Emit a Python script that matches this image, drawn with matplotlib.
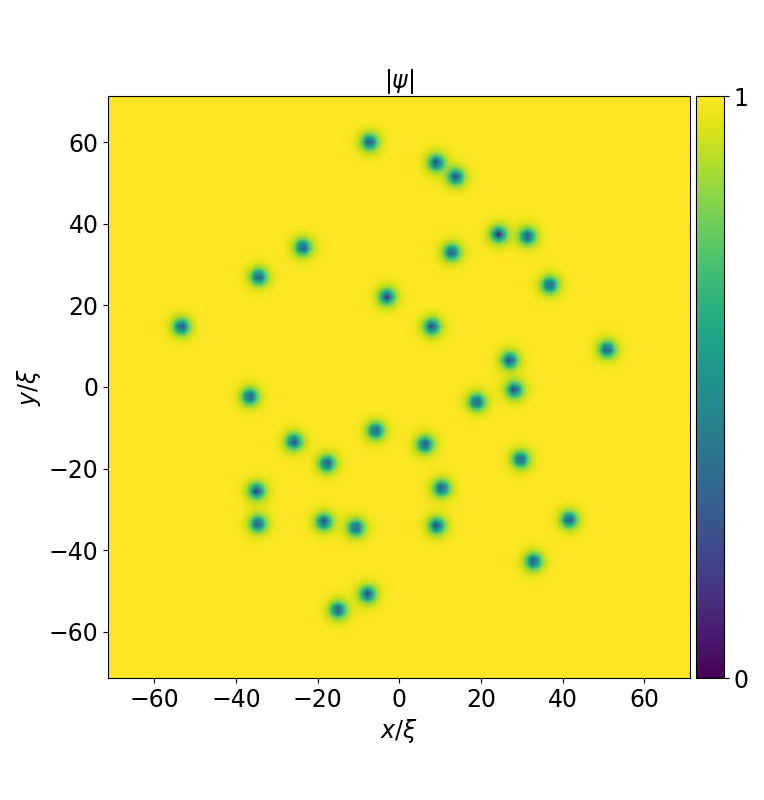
import numpy as np
import matplotlib
matplotlib.use("Agg")
import matplotlib.pyplot as plt

# vortex positions in units of xi
vortex_x = [-7.3, 9.2, 14.0, 24.6, 31.7, -23.8, 13.0, -34.7, 37.2, -3.0, -53.8,
            8.1, 51.4, 27.3, 28.5, -36.9, 19.2, -5.8, -26.0, 6.4, -17.8, 30.0,
            -35.2, 10.5, -34.9, -18.6, -10.7, 9.3, 42.0, 33.2, -7.8, -15.1]
vortex_y = [60.5, 55.4, 51.9, 37.7, 37.2, 34.5, 33.3, 27.2, 25.2, 22.3, 14.9,
            14.9, 9.3, 6.6, -0.7, -2.4, -3.7, -10.8, -13.5, -14.2, -18.9, -17.9,
            -25.7, -25.0, -33.8, -33.3, -34.8, -34.3, -32.8, -43.1, -51.2, -55.1]

half_box = 71.3  # half width of the box, in xi
n_grid = 120

x = np.linspace(-half_box, half_box, n_grid)
X, Y = np.meshgrid(x, x)
psi = np.ones_like(X)
for vx, vy in zip(vortex_x, vortex_y):
    r = np.hypot(X - vx, Y - vy)
    psi *= np.tanh(r / 1.9)

W, H = 764.0, 800.0
fig = plt.figure(figsize=(W / 100, H / 100), dpi=100)
ax = fig.add_axes([108 / W, 1 - 678 / H, 582.5 / W, 582 / H])
cax = fig.add_axes([695.7 / W, 1 - 678 / H, 28.5 / W, 582 / H])

img = ax.imshow(
    psi,
    cmap="viridis",
    origin="lower",
    vmin=0,
    vmax=1,
    extent=[-half_box, half_box, -half_box, half_box],
    interpolation="bilinear",
)
ax.set_title(r"$|\psi|$", fontsize=17, pad=3)
ax.set_xlabel(r"$x/\xi$", fontsize=17)
ax.set_ylabel(r"$y/\xi$", fontsize=17)
ax.set_xticks([-60, -40, -20, 0, 20, 40, 60])
ax.set_yticks([-60, -40, -20, 0, 20, 40, 60])
ax.tick_params(labelsize=17)

cbar = fig.colorbar(img, cax=cax, ticks=[0, 1])
cbar.ax.tick_params(labelsize=17)

fig.savefig("out.png", dpi=100)
